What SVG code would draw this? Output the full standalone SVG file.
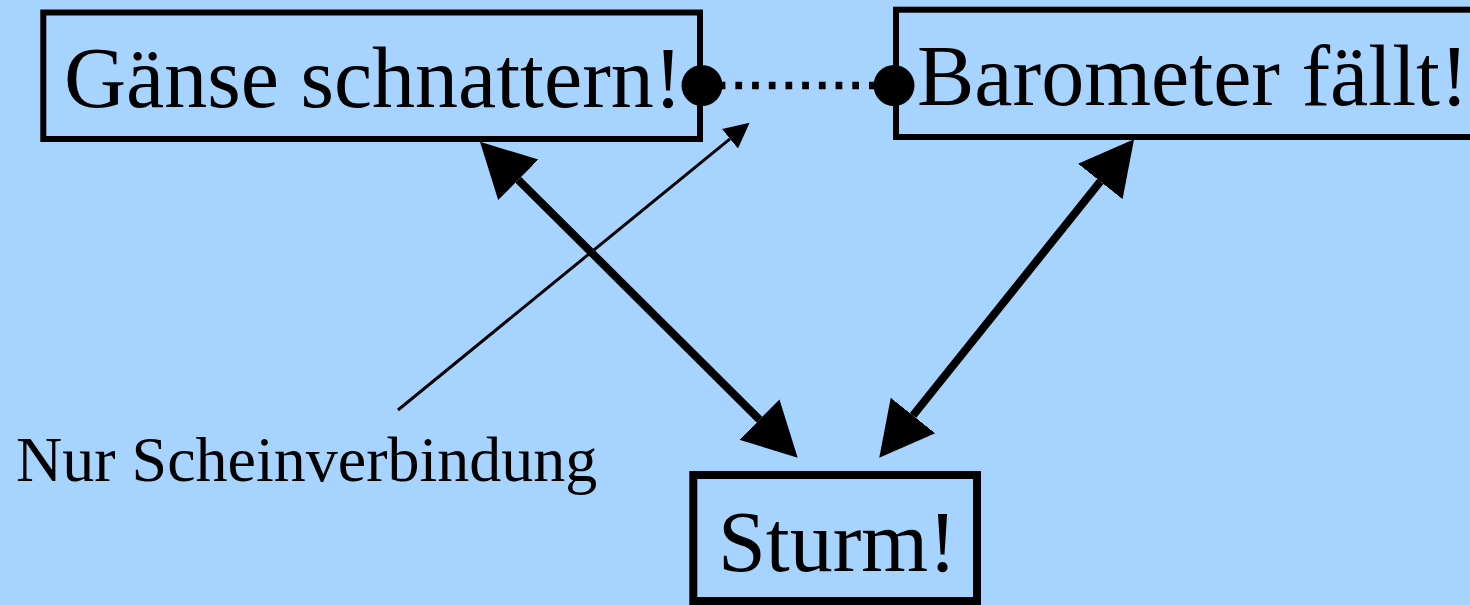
<svg xmlns="http://www.w3.org/2000/svg" width="1470" height="605" viewBox="0 0 1470 605">
  <style>
    .box { fill: #A7D4FF; stroke: #000; }
    text { font-family: 'Liberation Serif', 'Times New Roman', Times, 'DejaVu Serif', serif; fill: #000; }
    .big { font-size: 86px; }
    .small { font-size: 64px; }
    .thick { stroke: #000; stroke-width: 8; fill: none; }
    .thin { stroke: #000; stroke-width: 3; fill: none; }
    .dotted { stroke: #000; stroke-width: 7.5; stroke-dasharray: 6.7 10; fill: none; }
  </style>
  <defs>
    <marker id="bigHead" markerUnits="userSpaceOnUse" markerWidth="60" markerHeight="60" refX="0" refY="30" orient="auto-start-reverse" viewBox="0 0 60 60">
      <path d="M0,1.5 L54,30 L0,58.5 Z" fill="#000"/>
    </marker>
    <marker id="thinHead" markerUnits="userSpaceOnUse" markerWidth="30" markerHeight="30" refX="0" refY="15" orient="auto" viewBox="0 0 30 30">
      <path d="M0,2.4 L25.3,15 L0,27.6 Z" fill="#000"/>
    </marker>
  </defs>
  <rect width="1470" height="605" fill="#A7D4FF"/>

  <g id="node-gaense">
    <rect class="box" x="43.3" y="12.5" width="656.7" height="126.5" stroke-width="6"/>
    <text class="big" x="64" y="107" font-family="Liberation Serif, serif">Gänse schnattern!</text>
  </g>
  <g id="node-barometer">
    <rect class="box" x="896" y="9.7" width="590" height="127.3" stroke-width="6"/>
    <text class="big" x="917" y="105" font-family="Liberation Serif, serif">Barometer fällt!</text>
  </g>
  <g id="node-sturm">
    <rect class="box" x="693.3" y="475" width="283.7" height="126" stroke-width="8"/>
    <text class="big" x="718" y="571" font-family="Liberation Serif, serif">Sturm!</text>
  </g>
  <g id="label-schein">
    <text class="small" x="16" y="481" font-family="Liberation Serif, serif">Nur Scheinverbindung</text>
  </g>

  <g id="connectors">
    <line class="dotted" x1="702" y1="85.5" x2="894" y2="85.5"/>
    <circle cx="702" cy="85.5" r="20.5" fill="#000"/>
    <circle cx="894" cy="85.5" r="20.5" fill="#000"/>
    <line class="thick" x1="518.3" y1="179.8" x2="759.4" y2="419.6" marker-start="url(#bigHead)" marker-end="url(#bigHead)"/>
    <line class="thick" x1="1100.3" y1="181.5" x2="913" y2="415.5" marker-start="url(#bigHead)" marker-end="url(#bigHead)"/>
    <line class="thin" x1="398" y1="410" x2="730" y2="138.8" marker-end="url(#thinHead)"/>
  </g>
</svg>
